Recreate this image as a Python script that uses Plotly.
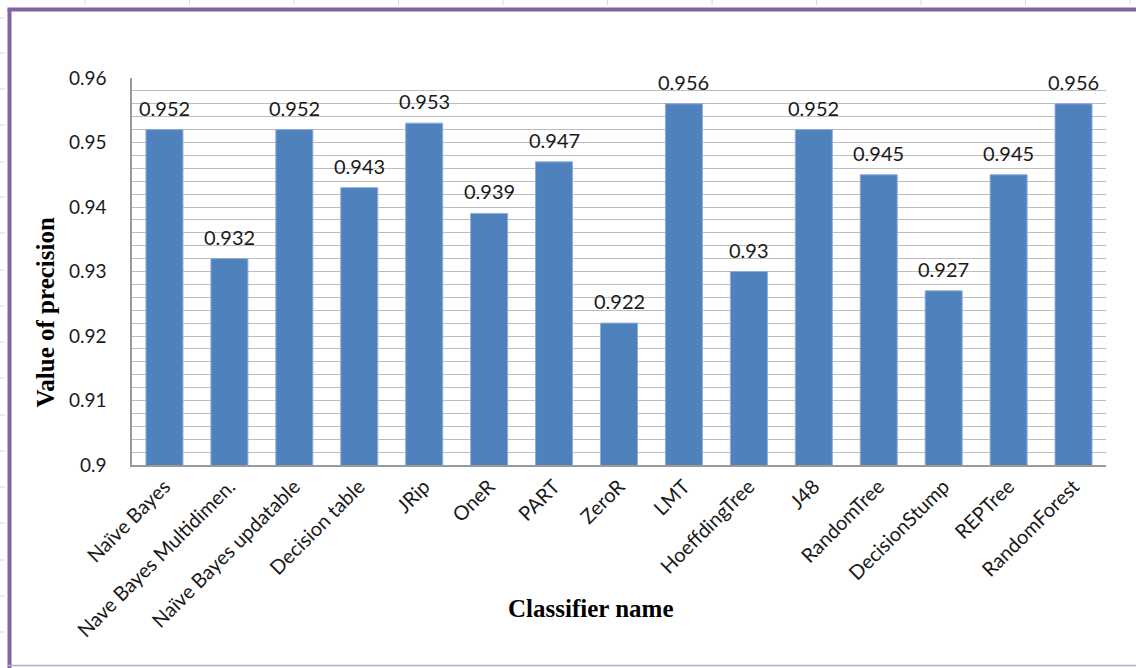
import plotly.graph_objects as go

# Precision of each classifier
classifiers = [
    "Naïve Bayes", "Nave Bayes Multidimen.", "Naïve Bayes updatable",
    "Decision table", "JRip", "OneR", "PART", "ZeroR", "LMT",
    "HoeffdingTree", "J48", "RandomTree", "DecisionStump", "REPTree",
    "RandomForest",
]
precision = [0.952, 0.932, 0.952, 0.943, 0.953, 0.939, 0.947, 0.922, 0.956,
             0.930, 0.952, 0.945, 0.927, 0.945, 0.956]
value_labels = ["0.952", "0.932", "0.952", "0.943", "0.953", "0.939", "0.947",
                "0.922", "0.956", "0.93", "0.952", "0.945", "0.927", "0.945",
                "0.956"]
y_ticks = [0.90, 0.91, 0.92, 0.93, 0.94, 0.95, 0.96]
y_tick_text = ["0.9", "0.91", "0.92", "0.93", "0.94", "0.95", "0.96"]

BAR = "#4F81BD"
GRID = "#BDBDBD"
PURPLE = "#8064A2"
FONT = "Lato, 'Open Sans', sans-serif"
SERIF = "'Liberation Serif', 'Times New Roman', serif"

W, H = 1136, 668
ml, mr, mt, mb = 132, 30, 78, 203
pw, ph = W - ml - mr, H - mt - mb

fig = go.Figure()
fig.add_trace(go.Bar(
    x=classifiers, y=precision, width=0.57,
    marker=dict(color=BAR, line=dict(color="#8DAEDA", width=1)),
    hoverinfo="x+y", showlegend=False,
))

# Value labels sitting above each bar
for c, v, t in zip(classifiers, precision, value_labels):
    fig.add_annotation(x=c, y=v, text=t, showarrow=False, yanchor="bottom",
                       yshift=8, font=dict(family=FONT, size=20, color="#1a1a1a"))

# Axis titles
fig.add_annotation(xref="paper", yref="paper", x=-0.089, y=0.395,
                   text="<b>Value of precision</b>", textangle=-90,
                   showarrow=False, xanchor="center", yanchor="middle",
                   font=dict(family=SERIF, size=25, color="black"))
fig.add_annotation(xref="paper", yref="paper", x=0.471, y=-0.37,
                   text="<b>Classifier name</b>", showarrow=False,
                   xanchor="center", yanchor="middle",
                   font=dict(family=SERIF, size=25, color="black"))


def px_x(x):
    return (x - ml) / pw


def px_y(y):
    return 1 - (y - mt) / ph


# Chart-area frame (purple) and faint sheet grid marks around it
deco = []
for xs in [85, 189.5, 294, 398.5, 503, 607.5, 712, 816.5, 921, 1025.5, 1130]:
    deco.append(dict(type="line", xref="paper", yref="paper",
                     x0=px_x(xs), x1=px_x(xs), y0=px_y(0), y1=px_y(5),
                     line=dict(color="#D8D8D8", width=1), layer="below"))
for ys in [18, 53, 89, 125, 162, 197, 233, 270, 306, 342, 378, 415, 451, 487,
           523, 560, 596, 632]:
    deco.append(dict(type="line", xref="paper", yref="paper",
                     x0=px_x(0), x1=px_x(5), y0=px_y(ys), y1=px_y(ys),
                     line=dict(color="#D8D8D8", width=1), layer="below"))
deco.append(dict(type="line", xref="paper", yref="paper",
                 x0=px_x(9.5), x1=px_x(9.5), y0=px_y(9.5), y1=px_y(668),
                 line=dict(color=PURPLE, width=4)))
deco.append(dict(type="line", xref="paper", yref="paper",
                 x0=px_x(7.5), x1=px_x(1136), y0=px_y(9.5), y1=px_y(9.5),
                 line=dict(color=PURPLE, width=4)))
deco.append(dict(type="line", xref="paper", yref="paper",
                 x0=px_x(8), x1=px_x(1136), y0=px_y(665.5), y1=px_y(665.5),
                 line=dict(color="#B9A9D1", width=1.5)))

fig.update_layout(
    width=W, height=H,
    margin=dict(l=ml, r=mr, t=mt, b=mb, pad=0),
    paper_bgcolor="white", plot_bgcolor="white",
    font=dict(family=FONT, size=19, color="#1a1a1a"),
    bargap=0.43,
    shapes=deco,
    xaxis=dict(
        type="category", tickangle=-45, showgrid=False,
        showline=True, linecolor="#9A9A9A", linewidth=2,
        ticks="", tickfont=dict(family=FONT, size=20, color="#1a1a1a"),
        range=[-0.5, len(classifiers) - 0.5],
    ),
    yaxis=dict(
        range=[0.9, 0.96], tickvals=y_ticks, ticktext=y_tick_text,
        showgrid=True, gridcolor=GRID, gridwidth=1,
        minor=dict(dtick=0.002, tick0=0.9, showgrid=True, gridcolor=GRID,
                   gridwidth=1),
        showline=True, linecolor="#9A9A9A", linewidth=1.5,
        ticks="", ticklabelstandoff=20,
        tickfont=dict(family=FONT, size=19, color="#1a1a1a"),
        zeroline=False,
    ),
)

fig.write_html("out.html")
